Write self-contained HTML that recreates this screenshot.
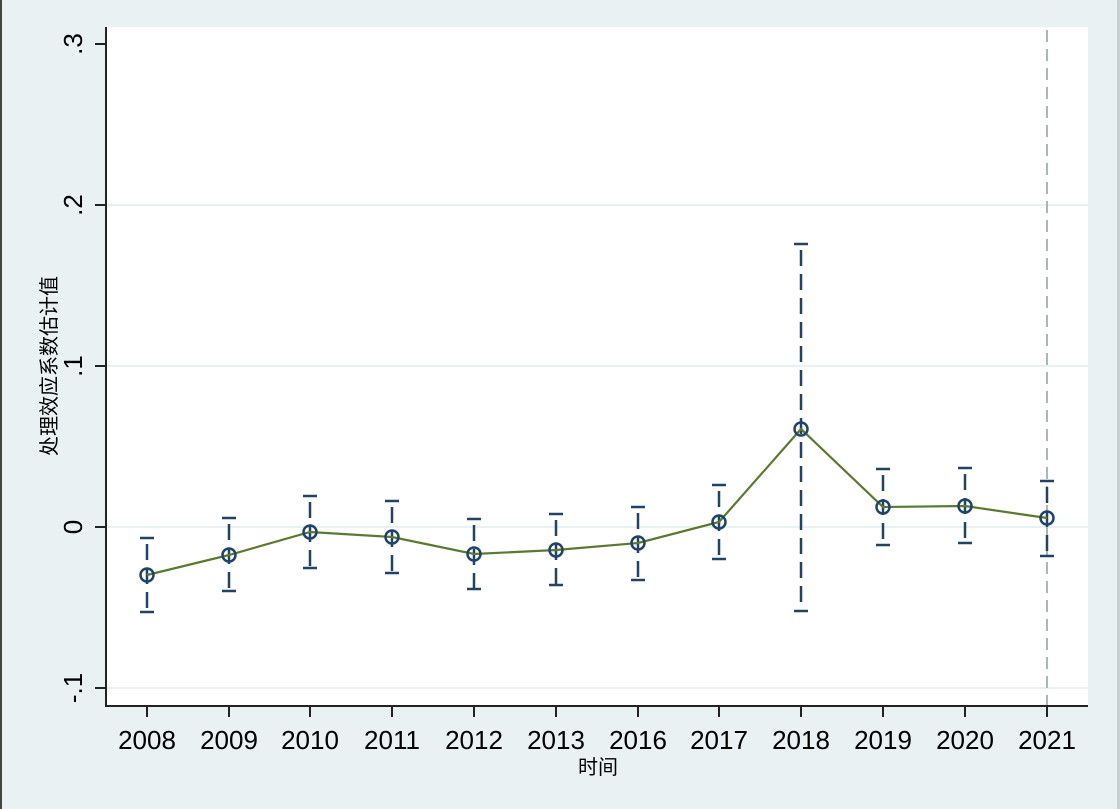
<!DOCTYPE html>
<html><head><meta charset="utf-8"><style>
html,body{margin:0;padding:0;background:#eaf1f3;}
svg{display:block}
text{font-family:"Liberation Sans","Noto Sans CJK SC",sans-serif;fill:#000}
</style></head><body>
<svg width="1120" height="809" viewBox="0 0 1120 809">
<rect x="0" y="0" width="1120" height="809" fill="#eaf1f3"/>
<rect x="0" y="0" width="2" height="809" fill="#444"/>
<rect x="1117" y="0" width="3" height="809" fill="#c8cfd2"/>
<rect x="106" y="27" width="982" height="679" fill="#fff"/>
<g stroke="#eaf1f3" stroke-width="2">
<line x1="106" x2="1088" y1="205" y2="205"/>
<line x1="106" x2="1088" y1="366" y2="366"/>
<line x1="106" x2="1088" y1="527" y2="527"/>
<line x1="106" x2="1088" y1="688" y2="688"/>
</g>
<line x1="1047" x2="1047" y1="30" y2="706" stroke="#a9b7b7" stroke-width="2" stroke-dasharray="12,7"/>
<g stroke="#222" stroke-width="2">
<line x1="106" x2="106" y1="27" y2="707"/>
<line x1="105" x2="1088" y1="706" y2="706"/>
<line x1="95" x2="106" y1="44" y2="44"/>
<line x1="95" x2="106" y1="205" y2="205"/>
<line x1="95" x2="106" y1="366" y2="366"/>
<line x1="95" x2="106" y1="527" y2="527"/>
<line x1="95" x2="106" y1="688" y2="688"/>
</g>
<g font-size="26" text-anchor="middle">
<text transform="translate(82,44) rotate(-90)">.3</text>
<text transform="translate(82,205) rotate(-90)">.2</text>
<text transform="translate(82,366) rotate(-90)">.1</text>
<text transform="translate(82,527) rotate(-90)">0</text>
<text transform="translate(82,688) rotate(-90)">-.1</text>
</g>
<text transform="translate(56,366) rotate(-90)" font-size="20" text-anchor="middle">处理效应系数估计值</text>
<g id="xt" stroke="#222" stroke-width="2"></g>
<g font-size="26" text-anchor="middle" id="xl"></g>
<text x="598" y="774" font-size="20" text-anchor="middle">时间</text>
<g id="eb" stroke="#1f4468" stroke-width="2.5" fill="none"></g>
<polyline id="ln" fill="none" stroke="#5b7a2e" stroke-width="2.2"/>
<g id="pt" stroke="#1f4468" stroke-width="2.5" fill="none"></g>
</svg>
<script>
var xs=[147,229,310,392,474,556,638,719,801,883,965,1047];
var yrs=["2008","2009","2010","2011","2012","2013","2016","2017","2018","2019","2020","2021"];
var py=[575,555,532,537,554,550,543,522,429,507,506,518];
var up=[538,518,496,501,519,514,507,485,244,469,468,481];
var lo=[612,591,568,573,589,585,580,559,611,545,543,556];
var ns="http://www.w3.org/2000/svg";
function el(p,t,a){var e=document.createElementNS(ns,t);for(var k in a)e.setAttribute(k,a[k]);p.appendChild(e);return e;}
var xt=document.getElementById('xt'),xl=document.getElementById('xl'),eb=document.getElementById('eb'),pt=document.getElementById('pt');
var pts=[];
for(var i=0;i<12;i++){var x=xs[i];
el(xt,'line',{x1:x,x2:x,y1:706,y2:717});
var t=el(xl,'text',{x:x,y:749});t.textContent=yrs[i];
el(eb,'line',{x1:x,x2:x,y1:up[i],y2:lo[i],'stroke-dasharray':'16,8','stroke-dashoffset':'-6'});
el(eb,'line',{x1:x-7,x2:x+7,y1:up[i],y2:up[i]});
el(eb,'line',{x1:x-7,x2:x+7,y1:lo[i],y2:lo[i]});
pts.push(x+','+py[i]);
el(pt,'circle',{cx:x,cy:py[i],r:6.5,fill:'none'});
}
document.getElementById('ln').setAttribute('points',pts.join(' '));
</script>
</body></html>
